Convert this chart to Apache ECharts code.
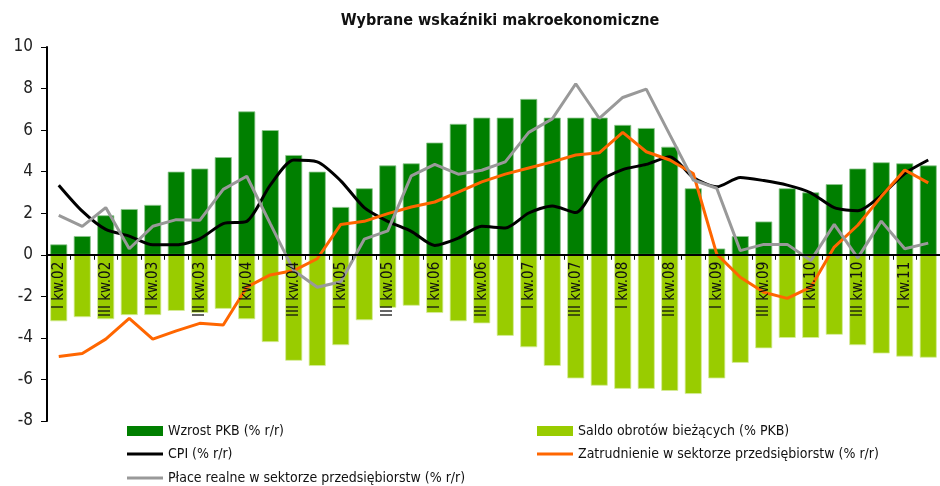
<!DOCTYPE html>
<html>
<head>
<meta charset="utf-8">
<script src="https://cdn.jsdelivr.net/npm/echarts@6/dist/echarts.min.js"></script>
<style>
  html, body { margin: 0; padding: 0; background: #fff; }
  #main { width: 940px; height: 486px; }
</style>
</head>
<body>
<div id="main"></div>
<script>
var kwartaly = [
    'I kw.02', 'II kw.02', 'III kw.02', 'IV kw.02',
    'I kw.03', 'II kw.03', 'III kw.03', 'IV kw.03',
    'I kw.04', 'II kw.04', 'III kw.04', 'IV kw.04',
    'I kw.05', 'II kw.05', 'III kw.05', 'IV kw.05',
    'I kw.06', 'II kw.06', 'III kw.06', 'IV kw.06',
    'I kw.07', 'II kw.07', 'III kw.07', 'IV kw.07',
    'I kw.08', 'II kw.08', 'III kw.08', 'IV kw.08',
    'I kw.09', 'II kw.09', 'III kw.09', 'IV kw.09',
    'I kw.10', 'II kw.10', 'III kw.10', 'IV kw.10',
    'I kw.11', 'II kw.11'
];

// Wzrost PKB (% r/r)
var pkb = [0.5, 0.9, 1.9, 2.2, 2.4, 4.0, 4.15, 4.7, 6.9, 6.0,
    4.8, 4.0, 2.3, 3.2, 4.3, 4.4, 5.4, 6.3, 6.6, 6.6,
    7.5, 6.6, 6.6, 6.6, 6.25, 6.1, 5.2, 3.2, 0.3, 0.9,
    1.6, 3.2, 3.0, 3.4, 4.15, 4.45, 4.4, 4.3];

// Saldo obrotów bieżących (% PKB)
var saldo = [-3.2, -3.0, -3.1, -2.9, -2.9, -2.7, -2.8, -2.6, -3.1, -4.2,
    -5.1, -5.35, -4.35, -3.15, -2.55, -2.45, -2.8, -3.2, -3.3, -3.9,
    -4.45, -5.35, -5.95, -6.3, -6.45, -6.45, -6.55, -6.7, -5.95, -5.2,
    -4.5, -4.0, -4.0, -3.85, -4.35, -4.75, -4.9, -4.95];

// CPI (% r/r)
var cpi = [3.35, 2.1, 1.22, 0.9, 0.48, 0.48, 0.77, 1.5, 1.61, 3.35,
    4.56, 4.47, 3.56, 2.27, 1.61, 1.13, 0.45, 0.8, 1.37, 1.29,
    2.01, 2.35, 2.03, 3.51, 4.1, 4.35, 4.72, 3.72, 3.27, 3.72,
    3.57, 3.35, 2.98, 2.27, 2.12, 2.86, 3.91, 4.56];

// Zatrudnienie w sektorze przedsiębiorstw (% r/r)
var zatrudnienie = [-4.9, -4.75, -4.06, -3.06, -4.06, -3.66, -3.3, -3.38, -1.56, -0.97,
    -0.76, -0.19, 1.46, 1.61, 1.98, 2.3, 2.54, 3.02, 3.51, 3.88,
    4.18, 4.47, 4.8, 4.91, 5.89, 4.96, 4.56, 3.91, 0.03, -1.08,
    -1.8, -2.1, -1.56, 0.37, 1.42, 2.8, 4.08, 3.46];

// Płace realne w sektorze przedsiębiorstw (% r/r)
var place = [1.9, 1.37, 2.27, 0.29, 1.37, 1.69, 1.66, 3.15, 3.78, 1.5,
    -0.76, -1.56, -1.3, 0.75, 1.15, 3.8, 4.35, 3.88, 4.07, 4.47,
    5.89, 6.54, 8.23, 6.57, 7.57, 7.97, 5.78, 3.6, 3.2, 0.2,
    0.5, 0.5, -0.28, 1.46, -0.15, 1.62, 0.29, 0.56];

var yMin = -8, yMax = 10;
var gridTop = 47, gridBottom = 65;

var czcionka = '"Liberation Sans Narrow", "Arial Narrow", "DejaVu Sans Condensed", sans-serif';

var myChart = echarts.init(document.getElementById('main'), null, { renderer: 'canvas' });

// os X lezy na zerze - przesuniecie od dolu siatki
var wysSiatki = 486 - gridTop - gridBottom;
var przesuniecie = -(0 - yMin) / (yMax - yMin) * wysSiatki;

function legendaPoz(nazwa, x, y, linia) {
    return {
        data: [{ name: nazwa, icon: 'rect' }],
        left: x,
        top: y,
        padding: 0,
        itemWidth: 36,
        itemHeight: linia ? 3 : 10,
        itemStyle: { borderWidth: 0 },
        selectedMode: false,
        textStyle: { fontFamily: czcionka, fontSize: 14, color: '#111' }
    };
}

var option = {
    animation: false,
    backgroundColor: '#fff',
    textStyle: { fontFamily: czcionka },
    title: {
        text: 'Wybrane wskaźniki makroekonomiczne',
        left: 495,
        top: 8,
        textAlign: 'center',
        textStyle: { fontFamily: czcionka, fontSize: 16, fontWeight: 'bold', color: '#111' }
    },
    legend: [
        legendaPoz('Wzrost PKB (% r/r)', 127, 424, false),
        legendaPoz('Saldo obrotów bieżących (% PKB)', 537, 424, false),
        legendaPoz('CPI (% r/r)', 127, 447, true),
        legendaPoz('Zatrudnienie w sektorze przedsiębiorstw (% r/r)', 537, 447, true),
        legendaPoz('Płace realne w sektorze przedsiębiorstw (% r/r)', 127, 471, true)
    ],
    grid: {
        left: 47,
        top: gridTop,
        right: -11,
        bottom: gridBottom,
        containLabel: false
    },
    xAxis: {
        type: 'category',
        data: kwartaly,
        boundaryGap: true,
        offset: przesuniecie,
        axisLine: { onZero: false, lineStyle: { color: '#000', width: 2 } },
        axisTick: { show: true, interval: 0, length: 5, lineStyle: { color: '#000', width: 1 } },
        axisLabel: {
            interval: 1,
            rotate: 90,
            margin: 7,
            fontFamily: czcionka,
            fontSize: 15,
            color: '#111'
        },
        splitLine: { show: false },
        z: 10
    },
    yAxis: {
        type: 'value',
        min: yMin,
        max: yMax,
        interval: 2,
        axisLine: { show: true, lineStyle: { color: '#000', width: 2 } },
        axisTick: { show: true, length: 6, lineStyle: { color: '#000', width: 1 } },
        axisLabel: { margin: 14, fontFamily: czcionka, fontSize: 17, color: '#222' },
        splitLine: { show: false }
    },
    series: [
        {
            name: 'Wzrost PKB (% r/r)',
            type: 'bar',
            stack: 'slupki',
            data: pkb,
            barWidth: 17,
            itemStyle: { color: '#007f00', borderColor: '#8fc78f', borderWidth: 0.8 },
            z: 2
        },
        {
            name: 'Saldo obrotów bieżących (% PKB)',
            type: 'bar',
            stack: 'slupki',
            data: saldo,
            barWidth: 17,
            itemStyle: { color: '#99cc00', borderColor: '#d6ec99', borderWidth: 0.8 },
            z: 2
        },
        {
            name: 'CPI (% r/r)',
            type: 'line',
            data: cpi,
            symbol: 'none',
            smooth: 0.25,
            lineStyle: { color: '#000', width: 3 },
            itemStyle: { color: '#000' },
            z: 5
        },
        {
            name: 'Zatrudnienie w sektorze przedsiębiorstw (% r/r)',
            type: 'line',
            data: zatrudnienie,
            symbol: 'none',
            lineStyle: { color: '#ff6600', width: 3 },
            itemStyle: { color: '#ff6600' },
            z: 5
        },
        {
            name: 'Płace realne w sektorze przedsiębiorstw (% r/r)',
            type: 'line',
            data: place,
            symbol: 'none',
            lineStyle: { color: '#999999', width: 3 },
            itemStyle: { color: '#999999' },
            z: 5
        }
    ]
};

myChart.setOption(option);
</script>
</body>
</html>
